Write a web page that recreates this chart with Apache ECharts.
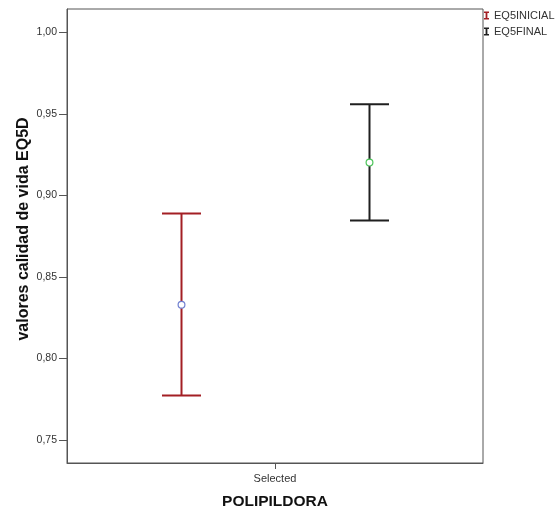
<!DOCTYPE html>
<html><head><meta charset="utf-8">
<script src="https://cdn.jsdelivr.net/npm/echarts@6/dist/echarts.min.js"></script>
<style>html,body{margin:0;padding:0;background:#fff}#c{width:555px;height:511px}</style>
</head><body><div id="c"></div>
<script>
var categories = ['Selected'];
var seriesNames = ['EQ5INICIAL', 'EQ5FINAL'];
var lowerValues = [0.7773, 0.8846];
var upperValues = [0.8889, 0.9559];
var meanValues = [0.8329, 0.9201];
var yTicks = [0.75, 0.80, 0.85, 0.90, 0.95, 1.00];

var barColors = ['#a31f24', '#1f1f1f'];
var markerColors = ['#6f7fd0', '#4cc45a'];
var offsets = [-0.226, 0.226];

var chart = echarts.init(document.getElementById('c'));
function makeSeries(i) {
  return {
    name: seriesNames[i],
    type: 'custom',
    color: barColors[i],
    data: [[0, lowerValues[i], upperValues[i], meanValues[i]]],
    encode: { x: 0, y: [1, 2, 3] },
    renderItem: function (params, api) {
      var bw = api.size([1, 0])[0];
      var c = api.coord([api.value(0), api.value(2)]);
      var x = Math.round(c[0] + offsets[i] * bw) + 0.5;
      var yl = api.coord([api.value(0), api.value(1)])[1];
      var yu = c[1];
      var ym = api.coord([api.value(0), api.value(3)])[1];
      var hw = 19.5;
      var ls = { stroke: barColors[i], lineWidth: 2 };
      return { type: 'group', children: [
        { type: 'line', shape: { x1: x, y1: yu, x2: x, y2: yl }, style: ls },
        { type: 'line', shape: { x1: x - hw, y1: yu, x2: x + hw, y2: yu }, style: ls },
        { type: 'line', shape: { x1: x - hw, y1: yl, x2: x + hw, y2: yl }, style: ls },
        { type: 'circle', shape: { cx: x, cy: ym, r: 3.4 }, style: { fill: '#fff', stroke: markerColors[i], lineWidth: 1.2 } }
      ]};
    }
  };
}
var iIcon = 'path://M0,0 L10,0 L10,3 L6.8,3 L6.8,13 L10,13 L10,16 L0,16 L0,13 L3.2,13 L3.2,3 L0,3 Z';
chart.setOption({
  animation: false,
  backgroundColor: '#fff',
  textStyle: { fontFamily: 'Liberation Sans, Arial, sans-serif' },
  grid: { left: 67, top: 9, right: 72, bottom: 48, show: true, borderColor: '#555', borderWidth: 1, backgroundColor: '#fff', containLabel: false, outerBoundsMode: 'none' },
  legend: {
    orient: 'vertical', left: 484, top: 10, padding: 0, itemWidth: 5, itemHeight: 9, itemGap: 5,
    selectedMode: false,
    data: seriesNames.map(function (n) { return { name: n, icon: iIcon }; }),
    textStyle: { fontSize: 11, color: '#333' }
  },
  xAxis: {
    type: 'category', data: categories,
    name: 'POLIPILDORA', nameLocation: 'middle', nameGap: 31, nameMoveOverlap: false,
    nameTextStyle: { fontSize: 15.5, fontWeight: 'bold', color: '#111' },
    axisLine: { show: true, lineStyle: { color: '#555' } },
    axisTick: { show: true, alignWithLabel: true, length: 6, lineStyle: { color: '#555' } },
    axisLabel: { fontSize: 11, color: '#333', margin: 10 },
    splitLine: { show: false }
  },
  yAxis: {
    type: 'value', min: 0.7359, max: 1.0143,
    name: 'valores calidad de vida EQ5D', nameLocation: 'middle', nameGap: 35, nameMoveOverlap: false,
    nameTextStyle: { fontSize: 16, fontWeight: 'bold', color: '#111', padding: [0, 0, 0, 14] },
    axisLine: { show: true, lineStyle: { color: '#555' } },
    axisTick: { show: true, length: 8, customValues: yTicks, lineStyle: { color: '#555' } },
    axisLabel: { fontSize: 10.5, color: '#333', margin: 10, customValues: yTicks,
      formatter: function (v) { return v.toFixed(2).replace('.', ','); } },
    splitLine: { show: false }
  },
  series: [makeSeries(0), makeSeries(1)]
});
</script></body></html>
